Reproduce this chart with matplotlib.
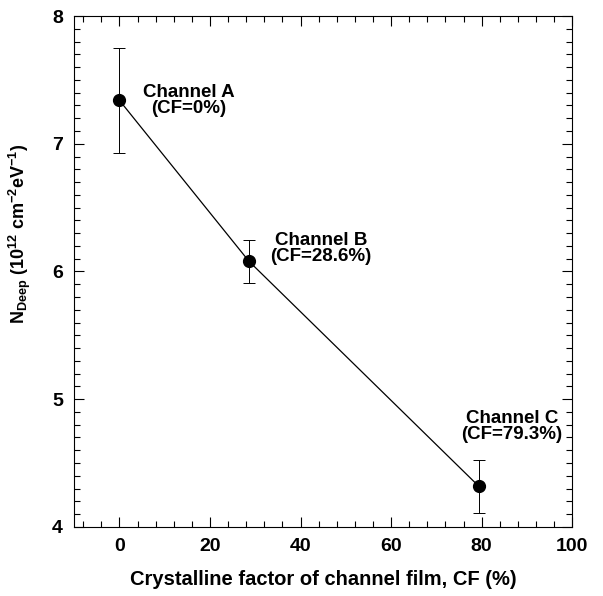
import matplotlib.pyplot as plt
from matplotlib.ticker import MultipleLocator

plt.rcParams['font.family'] = ['Liberation Sans', 'DejaVu Sans']
plt.rcParams['font.weight'] = 'bold'
plt.rcParams['mathtext.fontset'] = 'custom'
plt.rcParams['mathtext.rm'] = 'Liberation Sans:bold'
plt.rcParams['mathtext.bf'] = 'Liberation Sans:bold'
plt.rcParams['mathtext.it'] = 'Liberation Sans:bold'

# data
cf = [0, 28.6, 79.3]
n_deep = [7.34, 6.08, 4.32]
err_low = [0.41, 0.17, 0.21]
err_high = [0.41, 0.17, 0.20]
labels = ['Channel A\n(CF=0%)', 'Channel B\n(CF=28.6%)', 'Channel C\n(CF=79.3%)']
label_offsets = [(50, 0), (52, 9), (24, 43)]

fig = plt.figure(figsize=(6.03, 5.96), dpi=100)
ax = fig.add_axes([0.123, 0.116, 0.826, 0.857])

ax.plot(cf, n_deep, color='black', lw=0.9)
ax.errorbar(cf, n_deep, yerr=[err_low, err_high], fmt='o', color='black',
            ms=8.5, elinewidth=0.7, capsize=4, capthick=0.7)

for x, y, lab, off in zip(cf, n_deep, labels, label_offsets):
    ax.annotate(lab, (x, y), xytext=off, textcoords='offset points',
                ha='center', va='center', fontsize=13.5, fontweight='bold',
                linespacing=0.9)

ax.set_xlim(-10, 100)
ax.set_ylim(4, 8)
ax.xaxis.set_major_locator(MultipleLocator(20))
ax.xaxis.set_minor_locator(MultipleLocator(4))
ax.yaxis.set_major_locator(MultipleLocator(1))
ax.yaxis.set_minor_locator(MultipleLocator(0.1))
ax.tick_params(which='both', direction='in', top=True, right=True, width=0.8)
ax.tick_params(which='major', length=7, labelsize=14, pad=8)
ax.tick_params(which='minor', length=4)
for s in ax.spines.values():
    s.set_linewidth(0.8)

ax.set_xlabel('Crystalline factor of channel film, CF (%)', fontsize=14.5,
              fontweight='bold', labelpad=11)
ax.set_ylabel(r'N$_{\rm Deep}$ (10$^{12}$ cm$^{-2}$eV$^{-1}$)', fontsize=13,
              fontweight='bold')
ax.yaxis.set_label_coords(-0.082, 0.573)

fig.savefig('out.png', dpi=100)
